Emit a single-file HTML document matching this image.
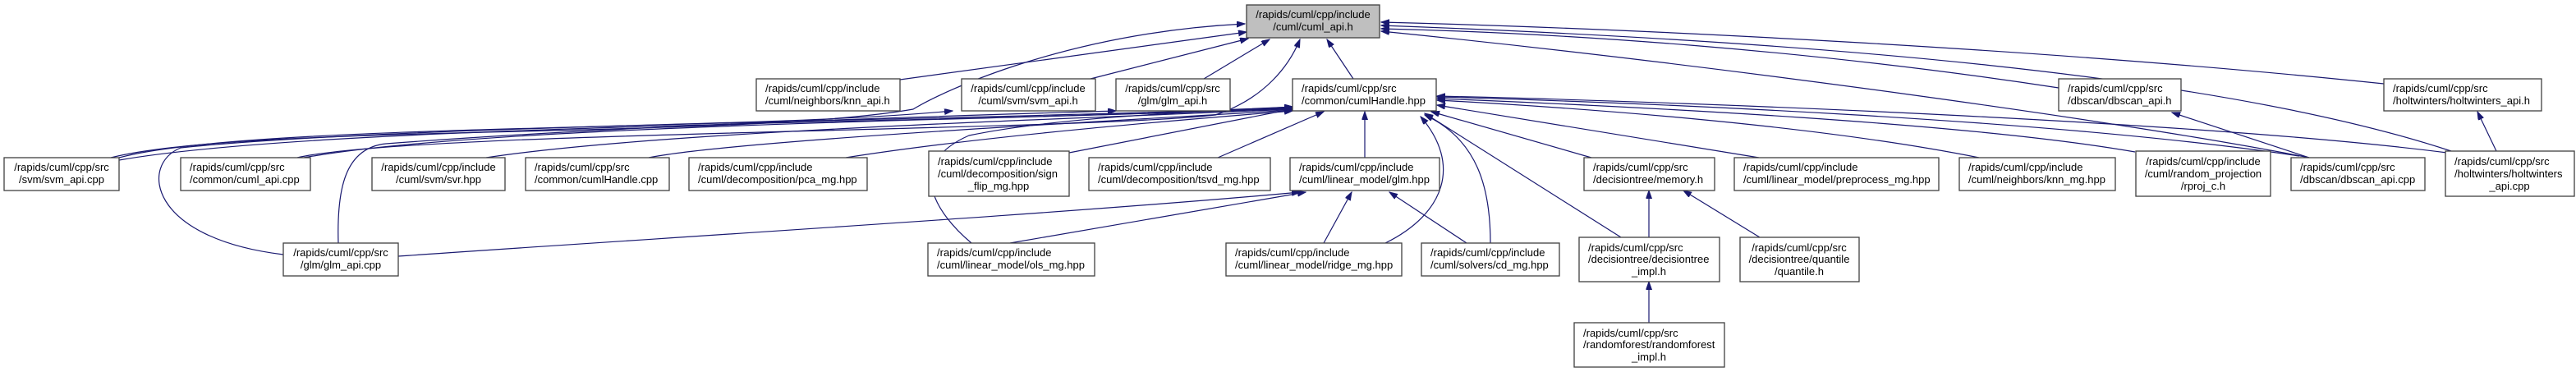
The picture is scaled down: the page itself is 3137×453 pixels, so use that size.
<!DOCTYPE html>
<html><head><meta charset="utf-8"><style>
html,body{margin:0;padding:0;background:#fff;}
svg{display:block;}
text{font-family:"Liberation Sans",sans-serif;font-size:13px;fill:#000;}
.b{fill:#fff;stroke:#404040;stroke-width:1.3;}
.e{fill:none;stroke:#191970;stroke-width:1.2;marker-end:url(#a);}
</style></head><body>
<svg width="3137" height="453" viewBox="0 0 3137 453" xmlns="http://www.w3.org/2000/svg">
<defs><marker id="a" markerUnits="userSpaceOnUse" markerWidth="11" markerHeight="8" refX="10" refY="3.5" orient="auto"><path d="M0,0 L10,3.5 L0,7 z" fill="#191970" stroke="#191970"/></marker></defs>

<!-- edges -->
<path class="e" d="M1096,97 L1518,39"/>
<path class="e" d="M1328,96 L1520,47"/>
<path class="e" d="M1466,96 L1546,48"/>
<path class="e" d="M1648,96 L1616,48"/>
<path class="e" d="M135,192 C300,150 900,170 1112,133 C1150,110 1300,40 1516,29"/>
<path class="e" d="M362,192 C500,160 1300,160 1480,140 C1540,120 1570,80 1583,48"/>
<path class="e" d="M2507,107 C2200,60 1900,40 1682,35"/>
<path class="e" d="M2903,102 C2500,60 2000,35 1682,27"/>
<path class="e" d="M2985,184 C2700,90 2200,50 1682,31"/>
<path class="e" d="M2812,192 C2600,150 2100,80 1682,38"/>
<path class="e" d="M145,195 C400,150 1200,150 1574,131"/>
<path class="e" d="M370,192 C600,150 1300,145 1574,132"/>
<path class="e" d="M592,192 C800,160 1300,145 1574,133"/>
<path class="e" d="M790,192 C900,170 1400,145 1574,134"/>
<path class="e" d="M1030,192 C1200,165 1450,145 1574,135"/>
<path class="e" d="M1302,186 L1578,132"/>
<path class="e" d="M1483,192 L1612,136"/>
<path class="e" d="M345,310 C180,290 170,200 220,180 C500,150 1300,145 1574,130"/>
<path class="e" d="M412,296 C410,230 420,180 470,175 C800,150 1200,140 1359,135"/>
<path class="e" d="M1183,296 C1140,260 1100,200 1180,165 C1300,140 1500,135 1574,130"/>
<path class="e" d="M1662,192 L1662,136"/>
<path class="e" d="M1687,296 C1760,260 1780,200 1730,142"/>
<path class="e" d="M1815,296 C1815,230 1800,170 1735,140"/>
<path class="e" d="M1974,289 L1735,138"/>
<path class="e" d="M1938,192 L1743,136"/>
<path class="e" d="M2142,192 L1750,128"/>
<path class="e" d="M2410,192 C2200,150 1900,130 1750,122"/>
<path class="e" d="M2600,185 C2400,150 2000,130 1750,120"/>
<path class="e" d="M2800,190 C2500,145 2000,125 1750,118"/>
<path class="e" d="M2980,186 C2700,150 2100,125 1750,117"/>
<path class="e" d="M145,192 C300,150 900,160 1160,135"/>
<path class="e" d="M1230,296 L1590,234"/>
<path class="e" d="M485,312 C800,290 1300,260 1583,234"/>
<path class="e" d="M1612,296 L1646,234"/>
<path class="e" d="M1786,296 L1692,234"/>
<path class="e" d="M2008,289 L2008,232"/>
<path class="e" d="M2143,289 L2050,232"/>
<path class="e" d="M2008,393 L2008,343"/>
<path class="e" d="M2812,192 L2645,137"/>
<path class="e" d="M3040,184 L3017,136"/>

<!-- nodes -->
<rect x="1518" y="6" width="162" height="40" fill="#bfbfbf" stroke="#404040" stroke-width="1.3"/>
<text x="1599" y="22" text-anchor="middle">/rapids/cuml/cpp/include</text>
<text x="1599" y="37" text-anchor="middle">/cuml/cuml_api.h</text>

<rect class="b" x="921" y="96" width="175" height="39"/>
<text x="932" y="112">/rapids/cuml/cpp/include</text><text x="932" y="127">/cuml/neighbors/knn_api.h</text>
<rect class="b" x="1171" y="96" width="163" height="39"/>
<text x="1252" y="112" text-anchor="middle">/rapids/cuml/cpp/include</text><text x="1252" y="127" text-anchor="middle">/cuml/svm/svm_api.h</text>
<rect class="b" x="1359" y="96" width="139" height="39"/>
<text x="1428" y="112" text-anchor="middle">/rapids/cuml/cpp/src</text><text x="1428" y="127" text-anchor="middle">/glm/glm_api.h</text>
<rect class="b" x="1574" y="96" width="175" height="39"/>
<text x="1585" y="112">/rapids/cuml/cpp/src</text><text x="1585" y="127">/common/cumlHandle.hpp</text>
<rect class="b" x="2507" y="96" width="149" height="39"/>
<text x="2518" y="112">/rapids/cuml/cpp/src</text><text x="2518" y="127">/dbscan/dbscan_api.h</text>
<rect class="b" x="2903" y="96" width="192" height="39"/>
<text x="2914" y="112">/rapids/cuml/cpp/src</text><text x="2914" y="127">/holtwinters/holtwinters_api.h</text>

<rect class="b" x="5" y="192" width="140" height="40"/>
<text x="75" y="208" text-anchor="middle">/rapids/cuml/cpp/src</text><text x="75" y="223" text-anchor="middle">/svm/svm_api.cpp</text>
<rect class="b" x="220" y="192" width="158" height="40"/>
<text x="231" y="208">/rapids/cuml/cpp/src</text><text x="231" y="223">/common/cuml_api.cpp</text>
<rect class="b" x="453" y="192" width="162" height="40"/>
<text x="534" y="208" text-anchor="middle">/rapids/cuml/cpp/include</text><text x="534" y="223" text-anchor="middle">/cuml/svm/svr.hpp</text>
<rect class="b" x="640" y="192" width="175" height="40"/>
<text x="651" y="208">/rapids/cuml/cpp/src</text><text x="651" y="223">/common/cumlHandle.cpp</text>
<rect class="b" x="839" y="192" width="217" height="40"/>
<text x="850" y="208">/rapids/cuml/cpp/include</text><text x="850" y="223">/cuml/decomposition/pca_mg.hpp</text>
<rect class="b" x="1131" y="184" width="171" height="55"/>
<text x="1142" y="201">/rapids/cuml/cpp/include</text><text x="1142" y="216">/cuml/decomposition/sign</text><text x="1216" y="231" text-anchor="middle">_flip_mg.hpp</text>
<rect class="b" x="1326" y="192" width="221" height="40"/>
<text x="1337" y="208">/rapids/cuml/cpp/include</text><text x="1337" y="223">/cuml/decomposition/tsvd_mg.hpp</text>
<rect class="b" x="1571" y="192" width="182" height="40"/>
<text x="1582" y="208">/rapids/cuml/cpp/include</text><text x="1582" y="223">/cuml/linear_model/glm.hpp</text>
<rect class="b" x="1929" y="192" width="159" height="40"/>
<text x="1940" y="208">/rapids/cuml/cpp/src</text><text x="1940" y="223">/decisiontree/memory.h</text>
<rect class="b" x="2112" y="192" width="249" height="40"/>
<text x="2123" y="208">/rapids/cuml/cpp/include</text><text x="2123" y="223">/cuml/linear_model/preprocess_mg.hpp</text>
<rect class="b" x="2386" y="192" width="190" height="40"/>
<text x="2397" y="208">/rapids/cuml/cpp/include</text><text x="2397" y="223">/cuml/neighbors/knn_mg.hpp</text>
<rect class="b" x="2601" y="184" width="164" height="55"/>
<text x="2683" y="201" text-anchor="middle">/rapids/cuml/cpp/include</text><text x="2683" y="216" text-anchor="middle">/cuml/random_projection</text><text x="2683" y="231" text-anchor="middle">/rproj_c.h</text>
<rect class="b" x="2790" y="192" width="163" height="40"/>
<text x="2801" y="208">/rapids/cuml/cpp/src</text><text x="2801" y="223">/dbscan/dbscan_api.cpp</text>
<rect class="b" x="2978" y="184" width="157" height="55"/>
<text x="2989" y="201">/rapids/cuml/cpp/src</text><text x="2989" y="216">/holtwinters/holtwinters</text><text x="3056" y="231" text-anchor="middle">_api.cpp</text>

<rect class="b" x="345" y="296" width="140" height="40"/>
<text x="415" y="312" text-anchor="middle">/rapids/cuml/cpp/src</text><text x="415" y="327" text-anchor="middle">/glm/glm_api.cpp</text>
<rect class="b" x="1130" y="296" width="203" height="40"/>
<text x="1141" y="312">/rapids/cuml/cpp/include</text><text x="1141" y="327">/cuml/linear_model/ols_mg.hpp</text>
<rect class="b" x="1493" y="296" width="214" height="40"/>
<text x="1504" y="312">/rapids/cuml/cpp/include</text><text x="1504" y="327">/cuml/linear_model/ridge_mg.hpp</text>
<rect class="b" x="1731" y="296" width="168" height="40"/>
<text x="1742" y="312">/rapids/cuml/cpp/include</text><text x="1742" y="327">/cuml/solvers/cd_mg.hpp</text>
<rect class="b" x="1923" y="289" width="171" height="54"/>
<text x="1934" y="306">/rapids/cuml/cpp/src</text><text x="1934" y="320">/decisiontree/decisiontree</text><text x="2008" y="335" text-anchor="middle">_impl.h</text>
<rect class="b" x="2119" y="289" width="145" height="54"/>
<text x="2191" y="306" text-anchor="middle">/rapids/cuml/cpp/src</text><text x="2191" y="320" text-anchor="middle">/decisiontree/quantile</text><text x="2191" y="335" text-anchor="middle">/quantile.h</text>

<rect class="b" x="1917" y="393" width="183" height="54"/>
<text x="1928" y="410">/rapids/cuml/cpp/src</text><text x="1928" y="424">/randomforest/randomforest</text><text x="2008" y="439" text-anchor="middle">_impl.h</text>
</svg>
</body></html>
